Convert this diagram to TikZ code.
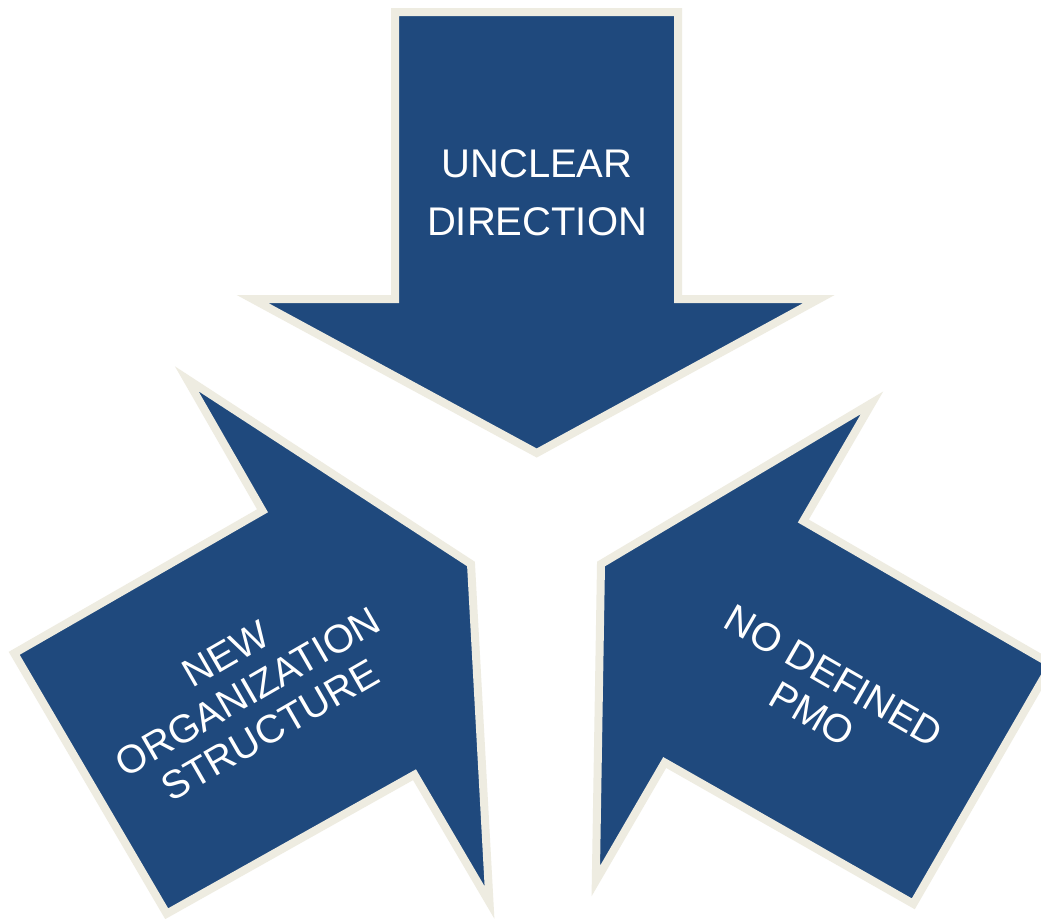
\documentclass[tikz,border=0pt]{standalone}
\usepackage{fontspec}
\setmainfont{Liberation Sans}
\definecolor{arrowblue}{HTML}{1F497D}
\definecolor{rimcream}{HTML}{EEECE1}
\begin{document}
\begin{tikzpicture}[x=1pt,y=-1pt,
  arrowshape/.style={fill=arrowblue,draw=rimcream,line width=8pt,line join=miter,miter limit=10},
  lbl/.style={text=white,font=\fontsize{39.5}{44}\selectfont,align=center,inner sep=0pt}]
\useasboundingbox (0,0) rectangle (1041,918);
\clip (0,0) rectangle (1041,918);
\fill[white] (0,0) rectangle (1041,918);
% top arrow (pointing down)
\draw[arrowshape] (395,12) -- (678,12) -- (678,299) -- (819,299) -- (536.7,453) -- (252.5,299) -- (395,299) -- cycle;
% left arrow (pointing up-right)
\draw[arrowshape] (471,564) -- (186.7,378.8) -- (262.5,510.8) -- (14.2,653.3) -- (166.7,913.7) -- (414.5,774.7) -- (489.5,902.5) -- cycle;
% right arrow (pointing up-left)
\draw[arrowshape] (601,564) -- (872,402.8) -- (803.3,521) -- (1051.5,664.3) -- (913.3,903.8) -- (664.7,762.5) -- (595.8,881) -- cycle;
\node[lbl,font=\fontsize{40}{57.7}\selectfont] (top) at (537,192.7) {UNCLEAR\\DIRECTION};
\node[lbl,rotate=30] (left) at (248,692) {NEW\\ORGANIZATION\\STRUCTURE};
\node[lbl,rotate=-30] (right) at (823,695) {NO DEFINED\\PMO};
\end{tikzpicture}
\end{document}
